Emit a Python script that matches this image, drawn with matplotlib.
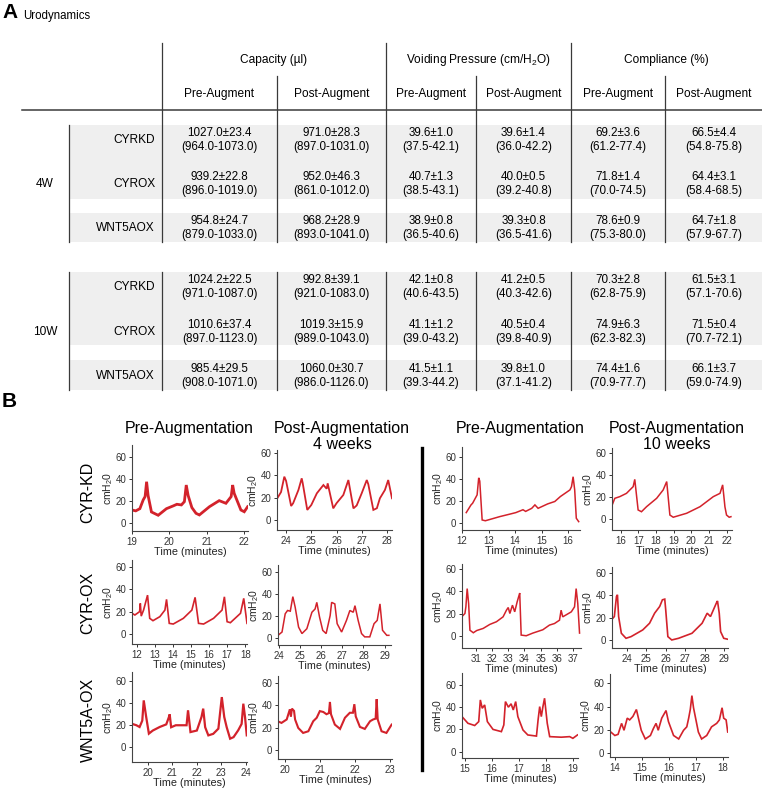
import matplotlib
matplotlib.use("Agg")
import matplotlib.pyplot as plt
import matplotlib.patches as patches

plt.rcParams['font.family'] = ['Liberation Sans', 'DejaVu Sans']
plt.rcParams['mathtext.default'] = 'regular'

# ---------------- Panel A data ----------------
time_points = ['4W', '10W']
lines = ['CYRKD', 'CYROX', 'WNT5AOX']
measures = ['Capacity (\u00b5l)', 'Voiding Pressure (cm/H$_2$O)', 'Compliance (%)']
phases = ['Pre-Augment', 'Post-Augment']

# (mean, sem, low, high), rows: 4W CYRKD, CYROX, WNT5AOX, 10W CYRKD, CYROX, WNT5AOX
capacity_pre = [(1027.0, 23.4, 964.0, 1073.0), (939.2, 22.8, 896.0, 1019.0), (954.8, 24.7, 879.0, 1033.0),
                (1024.2, 22.5, 971.0, 1087.0), (1010.6, 37.4, 897.0, 1123.0), (985.4, 29.5, 908.0, 1071.0)]
capacity_post = [(971.0, 28.3, 897.0, 1031.0), (952.0, 46.3, 861.0, 1012.0), (968.2, 28.9, 893.0, 1041.0),
                 (992.8, 39.1, 921.0, 1083.0), (1019.3, 15.9, 989.0, 1043.0), (1060.0, 30.7, 986.0, 1126.0)]
pressure_pre = [(39.6, 1.0, 37.5, 42.1), (40.7, 1.3, 38.5, 43.1), (38.9, 0.8, 36.5, 40.6),
                (42.1, 0.8, 40.6, 43.5), (41.1, 1.2, 39.0, 43.2), (41.5, 1.1, 39.3, 44.2)]
pressure_post = [(39.6, 1.4, 36.0, 42.2), (40.0, 0.5, 39.2, 40.8), (39.3, 0.8, 36.5, 41.6),
                 (41.2, 0.5, 40.3, 42.6), (40.5, 0.4, 39.8, 40.9), (39.8, 1.0, 37.1, 41.2)]
compliance_pre = [(69.2, 3.6, 61.2, 77.4), (71.8, 1.4, 70.0, 74.5), (78.6, 0.9, 75.3, 80.0),
                  (70.3, 2.8, 62.8, 75.9), (74.9, 6.3, 62.3, 82.3), (74.4, 1.6, 70.9, 77.7)]
compliance_post = [(66.5, 4.4, 54.8, 75.8), (64.4, 3.1, 58.4, 68.5), (64.7, 1.8, 57.9, 67.7),
                   (61.5, 3.1, 57.1, 70.6), (71.5, 0.4, 70.7, 72.1), (66.1, 3.7, 59.0, 74.9)]

# ---------------- Panel B traces (time in minutes, pressure in cmH2O) ----------------
kd_pre4_t = [19.0, 19.1, 19.21, 19.3, 19.35, 19.39, 19.43, 19.52, 19.7, 19.92, 20.1, 20.2, 20.32, 20.4,
             20.45, 20.5, 20.6, 20.71, 20.8, 21.07, 21.33, 21.51, 21.65, 21.69, 21.73, 21.91, 22.0, 22.09]
kd_pre4_p = [11.8, 11, 13, 21, 24, 37.5, 25, 10, 7, 13, 15.5, 17, 16.4, 19.4,
             34.5, 25, 14, 8.8, 7.3, 14.8, 20.3, 17.9, 24, 34.5, 27, 11.8, 10.2, 14.8]

kd_post4_t = [23.65, 23.8, 23.93, 24.0, 24.2, 24.28, 24.49, 24.62, 24.66, 24.84, 25.0, 25.22, 25.48, 25.61,
              25.65, 25.87, 26.0, 26.27, 26.47, 26.5, 26.67, 26.8, 27.0, 27.2, 27.26, 27.46, 27.6, 27.72,
              27.92, 28.05, 28.2]
kd_post4_p = [19.4, 25, 38.8, 35, 12.5, 15, 26.9, 37.3, 33, 9, 13.4, 23.9, 31.3, 28,
              32.8, 10.4, 15, 22.4, 35.8, 32, 10.4, 13, 24, 35.8, 32, 9, 10.5, 19.4,
              26.9, 35.8, 19.4]

kd_pre10_t = [12.16, 12.34, 12.4, 12.57, 12.63, 12.67, 12.76, 12.88, 13.43, 13.8, 14.03, 14.3, 14.4, 14.63,
              14.75, 14.87, 15.23, 15.5, 15.71, 16.07, 16.13, 16.19, 16.25, 16.31, 16.4]
kd_pre10_p = [9.4, 16.4, 17.9, 25.5, 41, 38, 2.7, 2, 5.8, 8, 9.4, 12, 10.5, 13.3,
              16.4, 13.3, 17.3, 19.5, 24, 30, 33, 42, 30, 4.3, 1.2]

kd_post10_t = [15.51, 15.66, 15.94, 16.32, 16.7, 16.79, 16.98, 17.17, 17.46, 18.03, 18.4, 18.6, 18.78, 18.97,
               19.73, 20.49, 21.24, 21.62, 21.77, 21.83, 21.9, 21.99, 22.14, 22.24]
kd_post10_p = [12.7, 18.8, 20.3, 23.3, 29.4, 36, 8.2, 6.6, 11.2, 18.8, 26.4, 34, 3.6, 1.6,
               5.2, 11.2, 20.3, 23.3, 31, 22, 11, 3.6, 1.6, 2.1]

ox_pre4_t = [11.74, 11.9, 12.16, 12.2, 12.25, 12.38, 12.6, 12.72, 12.9, 13.28, 13.56, 13.65, 13.8, 14.02,
             14.58, 15.05, 15.23, 15.42, 15.7, 16.25, 16.72, 16.85, 17.0, 17.18, 17.74, 17.92, 18.1]
ox_pre4_p = [18.5, 17, 20, 27.4, 16, 21.4, 34.8, 14, 11.9, 15.5, 21.4, 31, 9.5, 8.9,
             14, 21.4, 32.8, 9.5, 8.9, 14, 21.4, 33.3, 11, 10.1, 18.5, 31.9, 9.5]

ox_post4_t = [23.97, 24.16, 24.31, 24.42, 24.55, 24.67, 24.78, 24.94, 25.1, 25.33, 25.57, 25.72, 25.8, 25.93,
              26.08, 26.24, 26.43, 26.5, 26.65, 26.76, 26.97, 27.2, 27.36, 27.52, 27.6, 27.75, 27.91, 28.06,
              28.3, 28.5, 28.65, 28.78, 28.9, 29.1, 29.2]
ox_post4_p = [2.4, 5.4, 22, 25, 24.4, 37.6, 28, 9.9, 4, 8.4, 23.4, 26.4, 32.4, 19,
              6.9, 4, 20.4, 32.4, 31, 13, 5.4, 16, 25, 23.4, 29.4, 16, 4, 1,
              1, 13, 16, 31, 7, 2.4, 2.4]

ox_pre10_t = [30.12, 30.32, 30.38, 30.46, 30.55, 30.63, 30.84, 31.05, 31.45, 31.86, 32.27, 32.68, 32.89, 33.0,
              33.1, 33.26, 33.4, 33.55, 33.67, 33.71, 33.8, 34.11, 34.52, 35.14, 35.55, 35.86, 36.17, 36.27,
              36.37, 36.9, 37.1, 37.2, 37.3, 37.41]
ox_pre10_p = [17, 20, 26, 42.4, 29, 5, 2.7, 4.7, 6.6, 10.2, 12.6, 17, 23, 25.4,
              20, 27.5, 21.5, 30.4, 36.4, 38.4, 0.6, 0, 2.4, 5.4, 9.6, 11, 14, 23,
              17, 21.5, 26, 42.4, 29, 2.4]

ox_post10_t = [23.24, 23.36, 23.47, 23.52, 23.58, 23.72, 23.96, 24.22, 24.82, 25.17, 25.43, 25.69, 25.83, 25.95,
               26.0, 26.11, 26.31, 26.66, 27.35, 27.87, 28.13, 28.3, 28.6, 28.66, 28.75, 28.82, 28.98, 29.2]
ox_post10_p = [18.6, 21, 39, 40.5, 21, 6, 1.5, 3, 9, 15, 24, 30, 36, 36.6,
               27, 3, 0, 1.5, 6, 15, 24, 21, 33, 35, 24, 7.5, 1.5, 0.6]

wnt_pre4_t = [19.32, 19.53, 19.66, 19.77, 19.83, 19.93, 20.04, 20.2, 20.48, 20.75, 20.86, 20.89, 20.95, 21.14,
              21.58, 21.64, 21.74, 22.0, 22.19, 22.26, 22.34, 22.47, 22.67, 22.88, 23.02, 23.12, 23.22, 23.36,
              23.5, 23.69, 23.83, 23.9, 23.97, 24.04]
wnt_pre4_p = [21.3, 19.8, 18.2, 24, 42.4, 27.3, 12.2, 15, 18.2, 20.6, 27.3, 29.7, 18, 19.8,
              19.8, 33.4, 13.6, 15, 27.3, 34.9, 18, 10.6, 12, 16.7, 45.4, 27.3, 18, 7.6,
              9, 15.2, 21, 39.4, 27, 10.6]

wnt_post4_t = [19.79, 19.9, 20.05, 20.14, 20.17, 20.2, 20.26, 20.29, 20.38, 20.52, 20.67, 20.81, 20.91, 21.0,
               21.1, 21.19, 21.26, 21.29, 21.32, 21.43, 21.58, 21.72, 21.86, 21.95, 21.99, 22.03, 22.15, 22.29,
               22.44, 22.53, 22.6, 22.63, 22.66, 22.77, 22.91, 23.06]
wnt_post4_p = [25.7, 24.2, 27.3, 36.4, 30, 37, 35, 27.3, 19.7, 15.2, 16.7, 25.7, 28.8, 34.8,
               34, 32, 33, 43, 32, 22.7, 18.8, 28.8, 33.3, 33.3, 41, 30, 20.6, 18.8,
               25.7, 27.3, 28, 45.5, 27.3, 16.7, 15.2, 22.7]

wnt_pre10_t = [14.9, 15.12, 15.37, 15.52, 15.58, 15.65, 15.74, 15.84, 16.05, 16.36, 16.45, 16.51, 16.62, 16.72,
               16.8, 16.89, 16.97, 17.16, 17.34, 17.66, 17.72, 17.78, 17.84, 17.9, 17.96, 18.06, 18.15, 18.58,
               18.89, 19.01, 19.18]
wnt_pre10_p = [31.5, 25.5, 23.5, 27, 46.5, 39, 42, 27, 20, 18, 24, 45, 40, 43,
               37.5, 45, 31.5, 19.5, 15, 14, 28.5, 40.5, 31.5, 40.5, 48, 25.5, 13.5, 13,
               13.5, 12, 15]

wnt_post10_t = [13.85, 14.0, 14.12, 14.25, 14.34, 14.46, 14.55, 14.67, 14.8, 14.86, 14.98, 15.13, 15.32, 15.43,
                15.53, 15.61, 15.74, 15.9, 15.99, 16.18, 16.37, 16.55, 16.67, 16.74, 16.8, 16.86, 16.92, 17.1,
                17.22, 17.41, 17.59, 17.78, 17.88, 17.98, 18.04, 18.13, 18.19]
wnt_post10_p = [18, 15, 16, 25.5, 19.5, 30, 28.5, 31.5, 37.5, 31.5, 19.5, 12, 15, 21,
                25.5, 19.5, 30, 36.6, 27, 15, 12, 19.5, 22.5, 30, 37.5, 49.5, 39, 18,
                12, 15, 22.5, 25.5, 28.5, 39, 30, 28.5, 18]

row_labels = ['CYR-KD', 'CYR-OX', 'WNT5A-OX']
col_titles = ['Pre-Augmentation', 'Post-Augmentation\n4 weeks', 'Pre-Augmentation', 'Post-Augmentation\n10 weeks']

W, H = 762, 789
fig = plt.figure(figsize=(W / 100, H / 100), dpi=100)
fig.patch.set_facecolor('white')

# overlay axis in pixel coordinates for table and labels
ov = fig.add_axes([0, 0, 1, 1])
ov.set_xlim(0, W)
ov.set_ylim(H, 0)
ov.axis('off')

line_c = '#3a3a3a'
band_c = '#efefef'

ov.text(2, 12, 'A', fontsize=15, fontweight='bold', va='center', ha='left')
ov.text(23, 16, 'Urodynamics', fontsize=8.3, va='center', ha='left')

# table geometry
group_x = [162, 386, 571, 762]
sub_x = [162, 277, 386, 476, 571, 665, 762]
row_y = [[140, 184, 228], [287, 332, 376]]
bands = [[(125, 199), (213, 242)], [(272, 345), (360, 390)]]
blocks = [(43, 76, 242), (None, 272, 390)]

for gb in bands:
    for y0, y1 in gb:
        ov.add_patch(patches.Rectangle((69, y0), W - 69, y1 - y0, facecolor=band_c, edgecolor='none', zorder=0))

# header lines
for x in group_x[:3]:
    ov.plot([x, x], [43, 242], color=line_c, lw=0.9)
for x in sub_x[1::2]:
    ov.plot([x, x], [76, 242], color=line_c, lw=0.9)
for x in sub_x[:-1]:
    ov.plot([x, x], [272, 390], color=line_c, lw=0.9)
ov.plot([69, 69], [125, 242], color=line_c, lw=0.9)
ov.plot([69, 69], [272, 390], color=line_c, lw=0.9)
ov.plot([22, W], [110, 110], color=line_c, lw=1.1)

for i, m in enumerate(measures):
    ov.text((group_x[i] + group_x[i + 1]) / 2, 60, m, fontsize=8.6, ha='center', va='center')
for j in range(6):
    ov.text((sub_x[j] + sub_x[j + 1]) / 2, 94, phases[j % 2], fontsize=8.6, ha='center', va='center')

columns = [capacity_pre, capacity_post, pressure_pre, pressure_post, compliance_pre, compliance_post]
for g, tp in enumerate(time_points):
    ov.text(45, row_y[g][1], tp, fontsize=8.6, ha='center', va='center')
    for r, name in enumerate(lines):
        yc = row_y[g][r]
        ov.text(155, yc, name, fontsize=8.6, ha='right', va='center')
        for j, col in enumerate(columns):
            mean, sem, lo, hi = col[g * 3 + r]
            xc = (sub_x[j] + sub_x[j + 1]) / 2
            ov.text(xc, yc - 7, f'{mean:.1f}\u00b1{sem:.1f}', fontsize=8.4, ha='center', va='center')
            ov.text(xc, yc + 7, f'({lo:.1f}-{hi:.1f})', fontsize=8.4, ha='center', va='center')

# ---------------- Panel B ----------------
ov.text(2, 401, 'B', fontsize=15, fontweight='bold', va='center', ha='left')
ov.plot([422, 422], [448, 770], color='black', lw=2.4)

title_x = [189, 342, 520, 677]
for x, t in zip(title_x, col_titles):
    ov.text(x, 421, t, fontsize=11.5, ha='center', va='top', linespacing=1.1)

label_y = [492, 603, 720]
for y, lab in zip(label_y, row_labels):
    ov.text(88, y, lab, fontsize=11.5, rotation=90, ha='center', va='center')

traces = [
    [(kd_pre4_t, kd_pre4_p), (kd_post4_t, kd_post4_p), (kd_pre10_t, kd_pre10_p), (kd_post10_t, kd_post10_p)],
    [(ox_pre4_t, ox_pre4_p), (ox_post4_t, ox_post4_p), (ox_pre10_t, ox_pre10_p), (ox_post10_t, ox_post10_p)],
    [(wnt_pre4_t, wnt_pre4_p), (wnt_post4_t, wnt_post4_p), (wnt_pre10_t, wnt_pre10_p), (wnt_post10_t, wnt_post10_p)],
]

# axes boxes in pixels (left, top, right, bottom), x limits, y limits, first/last x tick
layout = [
    [((132, 445, 248, 531), (19.0, 22.1), (-7.3, 70.9), (19, 22)),
     ((277, 450, 392, 530), (23.64, 28.2), (-9, 62.7), (24, 28)),
     ((462, 447, 580, 530), (12.15, 16.45), (-6.4, 69), (12, 16)),
     ((612, 448, 732, 530), (15.5, 22.3), (-10, 64.5), (16, 22))],
    [((132, 560, 247, 644), (11.74, 18.1), (-9, 66.3), (12, 18)),
     ((278, 565, 391, 645), (23.97, 29.3), (-6.4, 66.4), (24, 29)),
     ((462, 564, 581, 648), (30.14, 37.5), (-11, 64.5), (31, 37)),
     ((612, 567, 728, 648), (23.24, 29.2), (-7.2, 65.4), (24, 29))],
    [((132, 672, 247, 762), (19.35, 24.05), (-13.6, 68.2), (20, 24)),
     ((278, 676, 392, 759), (19.8, 23.07), (-8.2, 66.3), (20, 23)),
     ((462, 673, 578, 758), (14.9, 19.2), (-5.7, 70.7), (15, 19)),
     ((610, 674, 728, 757), (13.82, 18.2), (-3.6, 68.2), (14, 18))],
]
line_w = [[2.0, 1.3, 1.1, 1.1], [1.2, 1.1, 1.1, 1.2], [1.6, 1.5, 1.2, 1.2]]
red = '#d3222b'

for r in range(3):
    for c in range(4):
        (l, t, rr, b), xl, yl, (x0, x1) = layout[r][c]
        ax = fig.add_axes([l / W, 1 - b / H, (rr - l) / W, (b - t) / H])
        ax.set_facecolor('none')
        tt, pp = traces[r][c]
        ax.plot(tt, pp, color=red, lw=line_w[r][c], solid_joinstyle='miter')
        ax.set_xlim(*xl)
        ax.set_ylim(*yl)
        ax.set_xticks(range(x0, x1 + 1))
        ax.set_yticks([0, 20, 40, 60])
        for s in ['top', 'right']:
            ax.spines[s].set_visible(False)
        for s in ['left', 'bottom']:
            ax.spines[s].set_color('#444444')
            ax.spines[s].set_linewidth(0.8)
        ax.tick_params(labelsize=7, colors='#333333', length=2.5, width=0.7, pad=1.5)
        ax.set_xlabel('Time (minutes)', fontsize=7.8, labelpad=0.5, color='#222222')
        ax.set_ylabel('cmH$_2$0', fontsize=7.5, labelpad=0.5, color='#222222')

fig.savefig('out.png', dpi=100, facecolor='white')
